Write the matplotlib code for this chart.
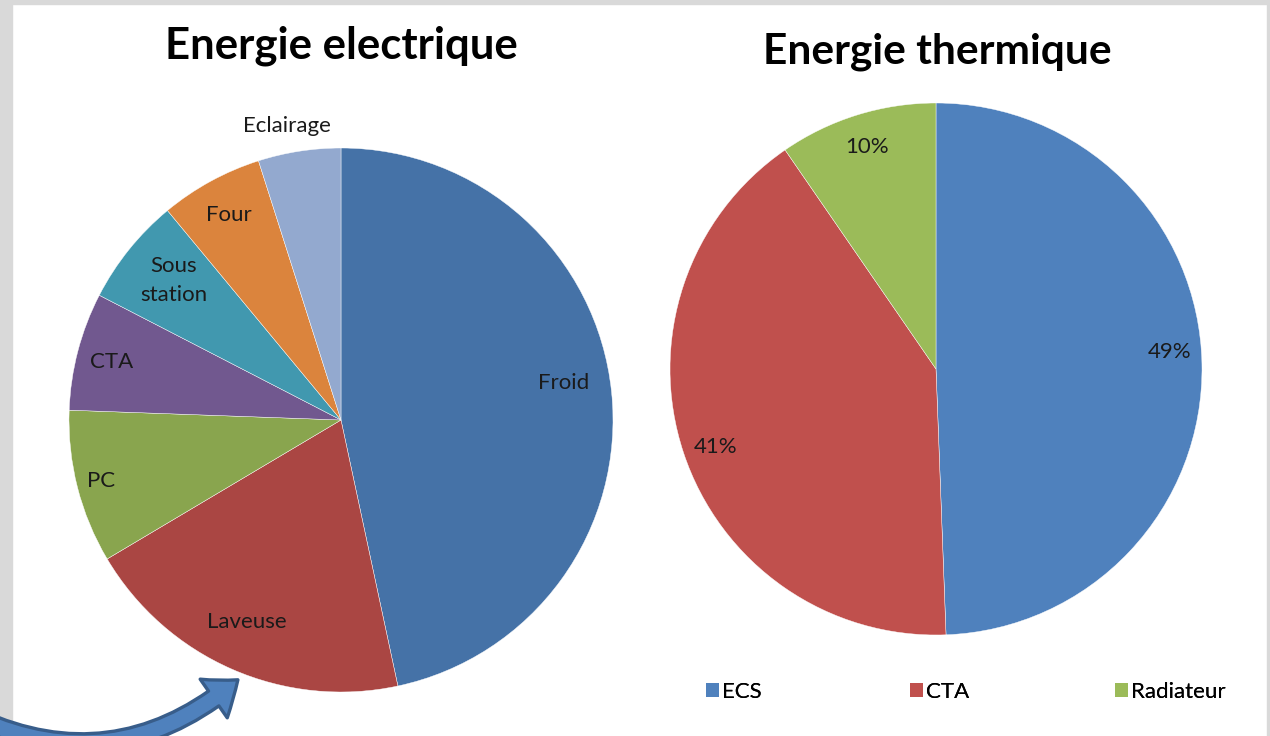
import matplotlib
matplotlib.use("Agg")
import matplotlib.pyplot as plt
from matplotlib.patches import Rectangle, FancyArrowPatch, Patch
import numpy as np

# ---------------- data ----------------
elec_labels = ["Froid", "Laveuse", "PC", "CTA", "Sous\nstation", "Four", "Eclairage"]
elec_values = [46.6, 19.8, 9.1, 7.0, 6.4, 6.1, 4.9]
elec_colors = ["#4572A7", "#AA4643", "#89A54E", "#71588F", "#4198AF", "#DB843D", "#93A9CF"]

therm_labels = ["ECS", "CTA", "Radiateur"]
therm_values = [49.4, 41.0, 9.6]
therm_colors = ["#4F81BD", "#C0504D", "#9BBB59"]

title_elec = "Energie electrique"
title_therm = "Energie thermique"

# ---------------- style ----------------
FONT = "Lato"
LABEL_SIZE = 16
W, H = 1270, 736
fig = plt.figure(figsize=(W / 100, H / 100), dpi=100)
fig.patch.set_facecolor("white")

# grey frame
grey = "#D9D9D9"
fig.patches.append(Rectangle((0, 0), 12 / W, 1, transform=fig.transFigure, color=grey, zorder=0))
fig.patches.append(Rectangle((0, 1 - 4 / H), 1, 4 / H, transform=fig.transFigure, color=grey, zorder=0))
fig.patches.append(Rectangle((1 - 3 / W, 0), 3 / W, 1, transform=fig.transFigure, color=grey, zorder=0))


def axes_for(cx, cy, r):
    return fig.add_axes([(cx - r) / W, (H - cy - r) / H, 2 * r / W, 2 * r / H])


# ---------------- left pie ----------------
ax1 = axes_for(341, 420, 272)
wedges1, texts1 = ax1.pie(elec_values, labels=elec_labels, colors=elec_colors,
                          startangle=90, counterclock=False, radius=1.0,
                          wedgeprops=dict(edgecolor="white", linewidth=0.3),
                          textprops=dict(fontsize=LABEL_SIZE, family=FONT, color="#1a1a1a"))
label_r = [0.83, 0.82, 0.91, 0.87, 0.80, 0.86, 1.10]
label_da = [3.5, -1.5, 0.0, 0.5, -1.0, 0.0, 1.5]
for w, t, rf, da in zip(wedges1, texts1, label_r, label_da):
    a = np.deg2rad((w.theta1 + w.theta2) / 2 + da)
    t.set_position((rf * np.cos(a), rf * np.sin(a)))
    t.set_ha("center")
    t.set_va("center")
    t.set_linespacing(1.6)
ax1.set_xlim(-1, 1)
ax1.set_ylim(-1, 1)
ax1.set_aspect("equal")
ax1.axis("off")

# ---------------- right pie ----------------
ax2 = axes_for(936, 369, 266)
wedges2, texts2, autotexts2 = ax2.pie(therm_values, colors=therm_colors,
                                      startangle=90, counterclock=False, radius=1.0,
                                      autopct="%1.0f%%", pctdistance=0.87,
                                      wedgeprops=dict(edgecolor="white", linewidth=0.3),
                                      textprops=dict(fontsize=LABEL_SIZE, family=FONT, color="#1a1a1a"))
pct_da = [3.0, 1.0, 0.0]
pct_r = [0.88, 0.88, 0.875]
for w, t, rf, da in zip(wedges2, autotexts2, pct_r, pct_da):
    a = np.deg2rad((w.theta1 + w.theta2) / 2 + da)
    t.set_position((rf * np.cos(a), rf * np.sin(a)))
ax2.set_xlim(-1, 1)
ax2.set_ylim(-1, 1)
ax2.set_aspect("equal")
ax2.axis("off")

# ---------------- titles ----------------
fig.text(341 / W, 1 - 46 / H, title_elec, ha="center", va="center",
         fontsize=31.5, fontweight="bold", family=FONT, color="black")
fig.text(937 / W, 1 - 52 / H, title_therm, ha="center", va="center",
         fontsize=30.5, fontweight="bold", family=FONT, color="black")

# ---------------- legend ----------------
leg_x = [706, 910, 1115]
for lab, col, x in zip(therm_labels, therm_colors, leg_x):
    lg = fig.legend(handles=[Patch(facecolor=col, edgecolor="none")], labels=[lab],
                    loc="center left", bbox_to_anchor=(x / W, 1 - 692 / H),
                    frameon=False, handlelength=0.6, handleheight=0.6,
                    handletextpad=0.1, borderaxespad=0, borderpad=0,
                    prop=dict(family=FONT, size=LABEL_SIZE))
    fig.add_artist(lg)

# ---------------- decorative curved arrow ----------------
arrow = FancyArrowPatch(posA=(-40 / W, 26 / H), posB=(240 / W, 58 / H),
                        transform=fig.transFigure,
                        connectionstyle="arc3,rad=0.34",
                        arrowstyle="simple,head_length=22,head_width=34,tail_width=13",
                        facecolor="#4F81BD", edgecolor="#385D8A", linewidth=2.4,
                        mutation_scale=1, zorder=5)
fig.patches.append(arrow)

fig.savefig("out.png", dpi=100, facecolor="white")
